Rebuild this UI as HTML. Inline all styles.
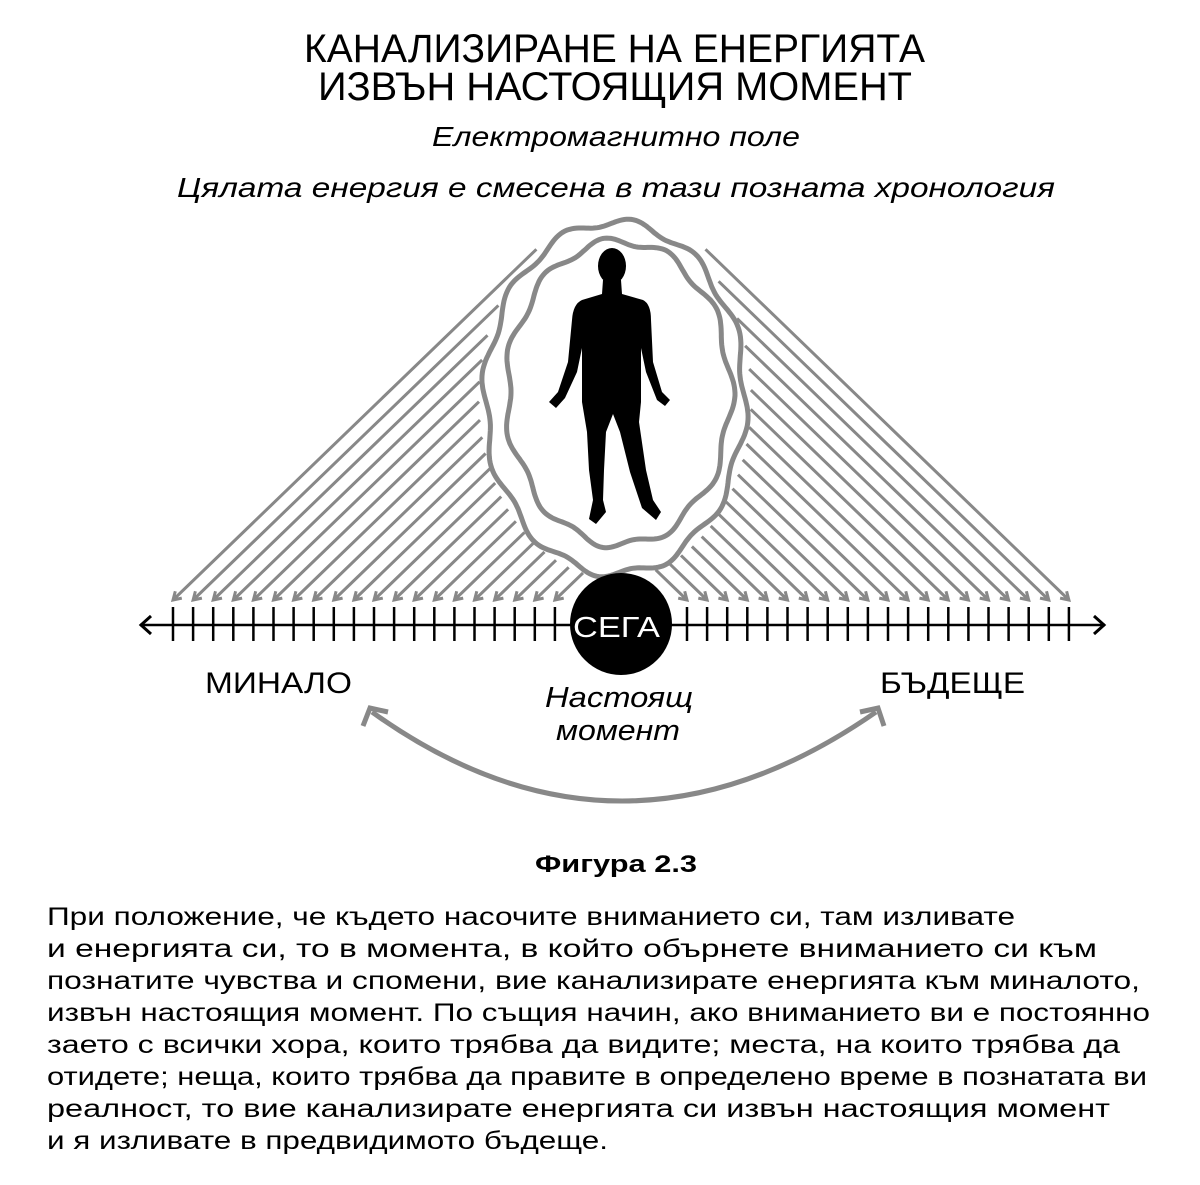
<!DOCTYPE html>
<html><head><meta charset="utf-8"><style>
html,body{margin:0;padding:0;background:#fff;}
svg{display:block;}
text{font-family:"Liberation Sans","Noto Sans CJK SC",sans-serif;fill:#000;}
</style></head><body>
<svg id="s" width="1200" height="1185" viewBox="0 0 1200 1185" xmlns="http://www.w3.org/2000/svg">
<text x="304" y="62" font-size="40" textLength="621" lengthAdjust="spacingAndGlyphs">КАНАЛИЗИРАНЕ НА ЕНЕРГИЯТА</text>
<text x="318" y="100" font-size="40" textLength="594" lengthAdjust="spacingAndGlyphs">ИЗВЪН НАСТОЯЩИЯ МОМЕНТ</text>
<text x="432" y="146" font-size="28" font-style="italic" textLength="368" lengthAdjust="spacingAndGlyphs">Електромагнитно поле</text>
<text x="177" y="197" font-size="28" font-style="italic" textLength="878" lengthAdjust="spacingAndGlyphs">Цялата енергия е смесена в тази позната хронология</text>

<g id="arrows" stroke="#888" stroke-width="3" fill="none" stroke-linecap="butt"></g>

<g fill="none" stroke="#888" stroke-width="5">
<path id="ovA"/>
<path id="ovB"/>
</g>

<!-- person -->
<g fill="#000">
<ellipse cx="612" cy="266" rx="14" ry="18"/>
<path d="M603 280 L621 280 L622 294 L643 300 Q651 304 651 320 L653 362 L662 392 L670 400 L665 406 L657 400 L646 372 L641 348 L641 402 L639 422 L646 470 L653 500 L661 512 L656 520 L642 508 L630 472 L620 432 L613 414 L606 432 L604 470 L603 500 L606 512 L596 524 L589 519 L593 500 L589 470 L587 432 L582 402 L582 348 L577 372 L565 398 L556 408 L549 402 L558 392 L568 362 L572 320 Q573 304 582 300 L602 294 Z"/>
</g>

<!-- timeline -->
<line x1="140" y1="625" x2="1105" y2="625" stroke="#000" stroke-width="2.5"/>
<path d="M151 616 L141 625 L151 634 M1094 616 L1104 625 L1094 634" stroke="#000" stroke-width="3" fill="none"/>
<g id="ticks" stroke="#000" stroke-width="2.5"></g>
<circle cx="621" cy="624" r="51" fill="#000"/>
<text x="573" y="637" font-size="29" fill="#fff" style="fill:#fff" textLength="87" lengthAdjust="spacingAndGlyphs">СЕГА</text>

<text x="205" y="693" font-size="30" textLength="147" lengthAdjust="spacingAndGlyphs">МИНАЛО</text>
<text x="880" y="693" font-size="30" textLength="145" lengthAdjust="spacingAndGlyphs">БЪДЕЩЕ</text>
<text x="545" y="707" font-size="29" font-style="italic" textLength="148" lengthAdjust="spacingAndGlyphs">Настоящ</text>
<text x="556" y="740" font-size="29" font-style="italic" textLength="124" lengthAdjust="spacingAndGlyphs">момент</text>

<path d="M372 712 Q620 890 876 712" stroke="#888" stroke-width="5" fill="none"/>
<path d="M363 726 L370 708 L388 712 M860 712 L878 708 L884 726" stroke="#888" stroke-width="5" fill="none"/>

<text x="535" y="872" font-size="24" font-weight="bold" textLength="162" lengthAdjust="spacingAndGlyphs">Фигура 2.3</text>

<g font-size="25">
<text x="47" y="925" textLength="968" lengthAdjust="spacingAndGlyphs">При положение, че където насочите вниманието си, там изливате</text>
<text x="47" y="957" textLength="1050" lengthAdjust="spacingAndGlyphs">и енергията си, то в момента, в който обърнете вниманието си към</text>
<text x="47" y="989" textLength="1093" lengthAdjust="spacingAndGlyphs">познатите чувства и спомени, вие канализирате енергията към миналото,</text>
<text x="47" y="1021" textLength="1103" lengthAdjust="spacingAndGlyphs">извън настоящия момент. По същия начин, ако вниманието ви е постоянно</text>
<text x="47" y="1053" textLength="1073" lengthAdjust="spacingAndGlyphs">заето с всички хора, които трябва да видите; места, на които трябва да</text>
<text x="47" y="1085" textLength="1100" lengthAdjust="spacingAndGlyphs">отидете; неща, които трябва да правите в определено време в познатата ви</text>
<text x="47" y="1117" textLength="1063" lengthAdjust="spacingAndGlyphs">реалност, то вие канализирате енергията си извън настоящия момент</text>
<text x="47" y="1149" textLength="561" lengthAdjust="spacingAndGlyphs">и я изливате в предвидимото бъдеще.</text>
</g>
</svg>
<script>
(function(){
var NS="http://www.w3.org/2000/svg";
function wavy(cx,cy,rx,ry,n,a,ph){var d="";for(var i=0;i<=360;i++){var t=i/360*2*Math.PI;var x=cx+rx*Math.cos(t),y=cy+ry*Math.sin(t);var w=a*Math.sin(n*t+ph);x+=w*Math.cos(t);y+=w*Math.sin(t);d+=(i?"L":"M")+x.toFixed(1)+" "+y.toFixed(1);}return d+"Z";}
document.getElementById("ovA").setAttribute("d",wavy(615,398,130,176,12,4,0));
document.getElementById("ovB").setAttribute("d",wavy(619,393,112,152,11,4,1.5));
var ticks=document.getElementById("ticks"),ar=document.getElementById("arrows");
var cx=615,cy=398,rx=136,ry=180;
function add(x,side){
 var l=document.createElementNS(NS,"line");l.setAttribute("x1",x);l.setAttribute("x2",x);l.setAttribute("y1",607);l.setAttribute("y2",641);ticks.appendChild(l);
 var dx=side*1,dy=-0.965,n=Math.hypot(dx,dy);dx/=n;dy/=n;
 var px=x,py=600;
 var A=dx*dx/(rx*rx)+dy*dy/(ry*ry),B=2*((px-cx)*dx/(rx*rx)+(py-cy)*dy/(ry*ry)),C=(px-cx)*(px-cx)/(rx*rx)+(py-cy)*(py-cy)/(ry*ry)-1;
 var D=B*B-4*A*C,t=505;
 if(D>0){var t1=(-B-Math.sqrt(D))/(2*A);if(t1>0)t=t1;}
 t=Math.min(t,505);
 var p=document.createElementNS(NS,"path");
 var ex=px+dx*t,ey=py+dy*t;
 var hx=-dx,hy=-dy;
 var s=9,c=Math.cos(0.55),sn=Math.sin(0.55);
 var b1x=px-s*(hx*c-hy*sn),b1y=py-s*(hx*sn+hy*c),b2x=px-s*(hx*c+hy*sn),b2y=py-s*(-hx*sn+hy*c);
 p.setAttribute("d","M"+ex.toFixed(1)+" "+ey.toFixed(1)+"L"+px+" "+py+"M"+b1x.toFixed(1)+" "+b1y.toFixed(1)+"L"+px+" "+py+"L"+b2x.toFixed(1)+" "+b2y.toFixed(1));
 ar.appendChild(p);
}
for(var i=0;i<20;i++){add(173+i*20.1,1);add(687+i*20.1,-1);}
})();
</script>
</body></html>
